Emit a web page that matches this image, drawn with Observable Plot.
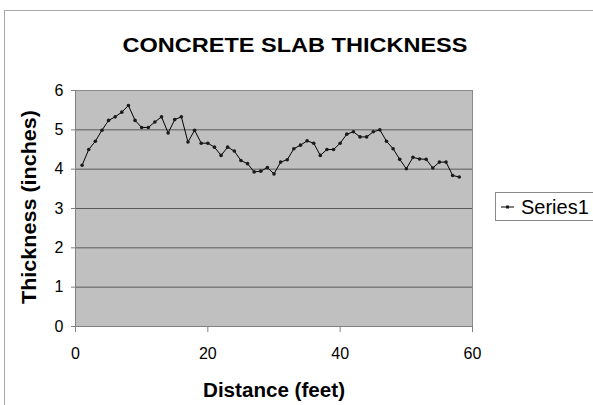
<!DOCTYPE html>
<html>
<head>
<meta charset="utf-8">
<script src="https://cdn.jsdelivr.net/npm/d3@7"></script>
<script src="https://cdn.jsdelivr.net/npm/@observablehq/plot@0.6"></script>
<style>
  html, body { margin: 0; padding: 0; background: #fff; }
  #wrap { position: relative; width: 593px; height: 405px; overflow: hidden; font-family: "Liberation Sans", Arial, sans-serif; }
  #border { position: absolute; left: 4px; top: 10px; width: 700px; height: 600px; border: 1px solid #a8a8a8; box-sizing: border-box; }
  #chart { position: absolute; left: 0; top: 0; }
  #overlay { position: absolute; left: 0; top: 0; pointer-events: none; }
</style>
</head>
<body>
<div id="wrap">
  <div id="border"></div>
  <div id="chart"></div>
  <svg id="overlay" width="593" height="405"></svg>
</div>
<script>
// ---- data ----
const chartTitle = "CONCRETE SLAB THICKNESS";
const xTitle = "Distance (feet)";
const yTitle = "Thickness (inches)";
const seriesName = "Series1";
const distance = [1,2,3,4,5,6,7,8,9,10,11,12,13,14,15,16,17,18,19,20,21,22,23,24,25,26,27,28,29,30,31,32,33,34,35,36,37,38,39,40,41,42,43,44,45,46,47,48,49,50,51,52,53,54,55,56,57,58];
const thickness = [4.10,4.50,4.71,4.99,5.24,5.33,5.45,5.62,5.24,5.06,5.06,5.20,5.33,4.92,5.26,5.33,4.69,4.99,4.66,4.66,4.56,4.35,4.56,4.46,4.22,4.14,3.93,3.95,4.04,3.88,4.18,4.24,4.52,4.61,4.72,4.66,4.35,4.50,4.50,4.66,4.89,4.95,4.82,4.82,4.95,5.00,4.71,4.52,4.25,4.01,4.30,4.26,4.25,4.03,4.18,4.18,3.84,3.80];
const xTicks = [0,20,40,60];
const yTicks = [0,1,2,3,4,5,6];

const data = distance.map((d, i) => ({d, t: thickness[i]}));

const plot = Plot.plot({
  width: 593,
  height: 405,
  marginLeft: 75,
  marginRight: 121,
  marginTop: 90,
  marginBottom: 79,
  style: {fontFamily: '"Liberation Sans", Arial, sans-serif', fontSize: "16px", color: "#000", background: "transparent", overflow: "visible"},
  x: {domain: [0, 60]},
  y: {domain: [0, 6]},
  marks: [
    Plot.frame({fill: "#c0c0c0", stroke: "#8a8a8a"}),
    Plot.gridY(yTicks.filter(v => v > 0 && v < 6), {stroke: "#5a5a5a", strokeOpacity: 1, strokeWidth: 1}),
    Plot.ruleY([0], {stroke: "#808080"}),
    Plot.ruleX([0], {stroke: "#808080"}),
    Plot.axisX(xTicks, {tickSize: 6, tickPadding: 15, stroke: "#808080", label: null, fontSize: 16}),
    Plot.axisY(yTicks, {tickSize: 4, tickPadding: 8, stroke: "#808080", label: null, fontSize: 16}),
    Plot.line(data, {x: "d", y: "t", stroke: "#000", strokeWidth: 1}),
    Plot.dot(data, {x: "d", y: "t", r: 1.8, fill: "#1a1a1a", stroke: "none"})
  ]
});
document.getElementById("chart").appendChild(plot);

// ---- titles and legend ----
const ov = d3.select("#overlay").style("font-family", '"Liberation Sans", Arial, sans-serif');
ov.append("text").attr("x", 295).attr("y", 52).attr("text-anchor", "middle")
  .attr("font-size", 21).attr("font-weight", "bold")
  .attr("textLength", 345).attr("lengthAdjust", "spacingAndGlyphs").text(chartTitle);
ov.append("text").attr("x", 274).attr("y", 397).attr("text-anchor", "middle")
  .attr("font-size", 19.5).attr("font-weight", "bold")
  .attr("textLength", 142).attr("lengthAdjust", "spacingAndGlyphs").text(xTitle);
ov.append("text").attr("transform", "translate(35.5,207) rotate(-90)").attr("text-anchor", "middle")
  .attr("font-size", 20).attr("font-weight", "bold")
  .attr("textLength", 194).attr("lengthAdjust", "spacingAndGlyphs").text(yTitle);
const lg = ov.append("g");
lg.append("rect").attr("x", 495.5).attr("y", 192.5).attr("width", 130).attr("height", 28)
  .attr("fill", "#fff").attr("stroke", "#888");
lg.append("line").attr("x1", 501).attr("x2", 514).attr("y1", 207).attr("y2", 207).attr("stroke", "#000");
lg.append("rect").attr("x", 506).attr("y", 205.5).attr("width", 3).attr("height", 3).attr("fill", "#1a1a1a");
lg.append("text").attr("x", 521).attr("y", 214).attr("font-size", 20).text(seriesName);
</script>
</body>
</html>
